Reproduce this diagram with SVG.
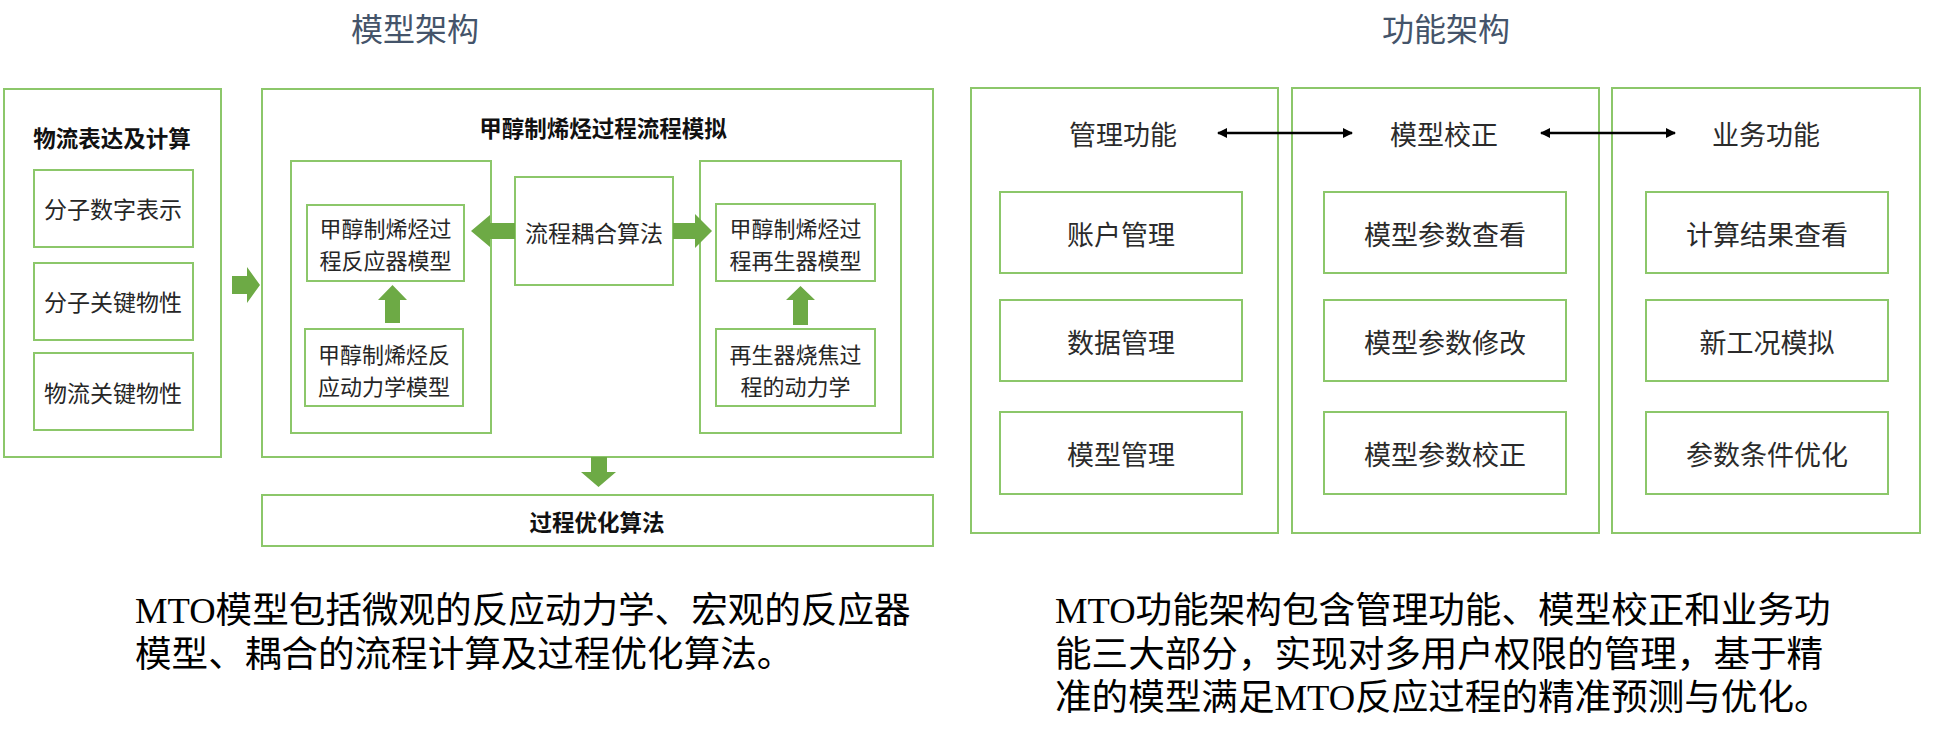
<svg xmlns="http://www.w3.org/2000/svg" width="1933" height="756" viewBox="0 0 1933 756">
<style>
.box{fill:#fff;stroke:#8CC76A;stroke-width:2}
.arr{fill:#6DAA45}
.t{font-family:"Noto Sans CJK SC","Liberation Sans",sans-serif;fill:#262626;text-anchor:middle;dominant-baseline:central}
.s23{font-size:23px}
.s22{font-size:22px}
.b{font-weight:bold;font-size:22.5px;fill:#111}
.f27{font-size:27px;fill:#2b2b2b}
.title{font-family:"Noto Sans CJK SC","Liberation Sans",sans-serif;font-size:32px;fill:#44546A;text-anchor:middle;dominant-baseline:central}
.para{font-family:"Liberation Serif","Noto Sans CJK SC",serif;font-size:36.6px;fill:#000}
.dbl{stroke:#000;stroke-width:2.5;fill:none}
</style>
<defs>
<marker id="ah" viewBox="0 0 10 10" refX="9" refY="5" markerWidth="4" markerHeight="4" orient="auto-start-reverse" markerUnits="strokeWidth">
<path d="M0,0 L10,5 L0,10 z" fill="#000"/>
</marker>
</defs>
<rect width="1933" height="756" fill="#fff"/>

<text class="title" x="415" y="27">模型架构</text>
<text class="title" x="1446" y="27">功能架构</text>

<g id="material-flow">
<rect class="box" x="4" y="89" width="217" height="368"/>
<text class="t b" x="112" y="137">物流表达及计算</text>
</g>
<g id="mol-digital">
<rect class="box" x="34" y="170" width="159" height="77"/>
<text class="t s23" x="113" y="208">分子数字表示</text>
</g>
<g id="mol-props">
<rect class="box" x="34" y="263" width="159" height="77"/>
<text class="t s23" x="113" y="301">分子关键物性</text>
</g>
<g id="flow-props">
<rect class="box" x="34" y="353" width="159" height="77"/>
<text class="t s23" x="113" y="392">物流关键物性</text>
</g>

<g id="process-sim">
<rect class="box" x="262" y="89" width="671" height="368"/>
<text class="t b" x="603" y="127">甲醇制烯烃过程流程模拟</text>
</g>
<g id="reactor-group">
<rect class="box" x="291" y="161" width="200" height="272"/>
</g>
<g id="reactor-model">
<rect class="box" x="307" y="205" width="157" height="76"/>
<text class="t s22"><tspan x="385.5" y="227">甲醇制烯烃过</tspan><tspan x="385.5" y="259">程反应器模型</tspan></text>
</g>
<g id="reaction-kinetics">
<rect class="box" x="305" y="329" width="158" height="77"/>
<text class="t s22"><tspan x="384" y="353">甲醇制烯烃反</tspan><tspan x="384" y="385">应动力学模型</tspan></text>
</g>
<g id="coupling">
<rect class="box" x="515" y="177" width="158" height="108"/>
<text class="t s23" x="594" y="232">流程耦合算法</text>
</g>
<g id="regen-group">
<rect class="box" x="700" y="161" width="201" height="272"/>
</g>
<g id="regen-model">
<rect class="box" x="716" y="204" width="159" height="77"/>
<text class="t s22"><tspan x="795.5" y="227">甲醇制烯烃过</tspan><tspan x="795.5" y="259">程再生器模型</tspan></text>
</g>
<g id="coke-kinetics">
<rect class="box" x="716" y="329" width="159" height="77"/>
<text class="t s22"><tspan x="795.5" y="353">再生器烧焦过</tspan><tspan x="795.5" y="385">程的动力学</tspan></text>
</g>
<g id="optimization">
<rect class="box" x="262" y="495" width="671" height="51"/>
<text class="t b" x="597" y="521">过程优化算法</text>
</g>

<g id="mgmt">
<rect class="box" x="971" y="88" width="307" height="445"/>
<text class="t f27" x="1123" y="133">管理功能</text>
</g>
<g id="calib">
<rect class="box" x="1292" y="88" width="307" height="445"/>
<text class="t f27" x="1444" y="133">模型校正</text>
</g>
<g id="biz">
<rect class="box" x="1612" y="88" width="308" height="445"/>
<text class="t f27" x="1766" y="133">业务功能</text>
</g>
<g id="account"><rect class="box" x="1000" y="192" width="242" height="81"/><text class="t f27" x="1121" y="233">账户管理</text></g>
<g id="data"><rect class="box" x="1000" y="300" width="242" height="81"/><text class="t f27" x="1121" y="341">数据管理</text></g>
<g id="modelmgmt"><rect class="box" x="1000" y="412" width="242" height="82"/><text class="t f27" x="1121" y="453">模型管理</text></g>
<g id="param-view"><rect class="box" x="1324" y="192" width="242" height="81"/><text class="t f27" x="1445" y="233">模型参数查看</text></g>
<g id="param-edit"><rect class="box" x="1324" y="300" width="242" height="81"/><text class="t f27" x="1445" y="341">模型参数修改</text></g>
<g id="param-calib"><rect class="box" x="1324" y="412" width="242" height="82"/><text class="t f27" x="1445" y="453">模型参数校正</text></g>
<g id="result-view"><rect class="box" x="1646" y="192" width="242" height="81"/><text class="t f27" x="1767" y="233">计算结果查看</text></g>
<g id="new-case"><rect class="box" x="1646" y="300" width="242" height="81"/><text class="t f27" x="1767" y="341">新工况模拟</text></g>
<g id="param-opt"><rect class="box" x="1646" y="412" width="242" height="82"/><text class="t f27" x="1767" y="453">参数条件优化</text></g>

<g id="connectors">
<polygon class="arr" points="232,276 247,276 247,267 260,285 247,303 247,294 232,294"/>
<polygon class="arr" points="471,231 490,215 490,223 515,223 515,239 490,239 490,247"/>
<polygon class="arr" points="673,223 695,223 695,214 712,231 695,248 695,239 673,239"/>
<polygon class="arr" points="392.5,285 407,300 400,300 400,323 385,323 385,300 378,300"/>
<polygon class="arr" points="800.5,286 815,300 808,300 808,325 793,325 793,300 786,300"/>
<polygon class="arr" points="591,457 607,457 607,472 616,472 598.5,487 581,472 591,472"/>
<line class="dbl" x1="1218" y1="133" x2="1352" y2="133" marker-start="url(#ah)" marker-end="url(#ah)"/>
<line class="dbl" x1="1541" y1="133" x2="1675" y2="133" marker-start="url(#ah)" marker-end="url(#ah)"/>
</g>

<text class="para"><tspan x="135" y="623">MTO模型包括微观的反应动力学、宏观的反应器</tspan><tspan x="135" y="666.5">模型、耦合的流程计算及过程优化算法。</tspan></text>
<text class="para"><tspan x="1055" y="623">MTO功能架构包含管理功能、模型校正和业务功</tspan><tspan x="1055" y="666.5">能三大部分，实现对多用户权限的管理，基于精</tspan><tspan x="1055" y="710">准的模型满足MTO反应过程的精准预测与优化。</tspan></text>
</svg>
